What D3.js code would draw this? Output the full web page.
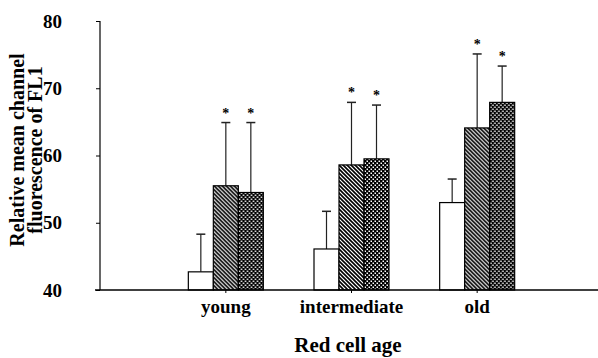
<!DOCTYPE html>
<html><head><meta charset="utf-8">
<script src="https://cdn.jsdelivr.net/npm/d3@7"></script>
<style>body{margin:0;background:#fff}svg{display:block}text{font-family:"Liberation Serif","Times New Roman",serif;font-weight:bold;fill:#000}</style>
</head><body>
<svg id="c" width="598" height="358"></svg>
<script>
const categories = ["young", "intermediate", "old"];
const series = ["control", "treatA", "treatB"];
const meanControl = [42.7, 46.1, 53.0];
const meanA = [55.5, 58.6, 64.1];
const meanB = [54.5, 59.5, 67.9];
const errTopControl = [48.3, 51.7, 56.5];
const errTopA = [64.9, 67.9, 75.1];
const errTopB = [64.9, 67.5, 73.3];
const significant = [[false, true, true], [false, true, true], [false, true, true]];
const yTicks = [40, 50, 60, 70, 80];

const svg = d3.select("#c");
const defs = svg.append("defs");
const hp = defs.append("pattern").attr("id","hatch").attr("patternUnits","userSpaceOnUse")
  .attr("width",4).attr("height",4);
hp.append("rect").attr("width",4).attr("height",4).attr("fill","#fff");
hp.append("path").attr("d","M-1,-1 L5,5 M-1,3 L1,5 M3,-1 L5,1").attr("stroke","#000").attr("stroke-width",1.6);
const cp = defs.append("pattern").attr("id","cross").attr("patternUnits","userSpaceOnUse")
  .attr("width",4).attr("height",4);
cp.append("rect").attr("width",4).attr("height",4).attr("fill","#000");
cp.append("rect").attr("x",0.5).attr("y",0.5).attr("width",1.5).attr("height",1.5).attr("fill","#fff");
cp.append("rect").attr("x",2.5).attr("y",2.5).attr("width",1.5).attr("height",1.5).attr("fill","#fff");
const fills = ["#fff","url(#hatch)","url(#cross)"];

const y = d3.scaleLinear().domain([40,80]).range([290,21]);
const x0 = d3.scaleBand().domain(categories).range([163,540]);
const x1 = d3.scaleBand().domain(series).range([0,75]);

const data = categories.map((c,i)=>({cat:c, vals:[
  {s:series[0], v:meanControl[i], e:errTopControl[i], sig:significant[i][0], k:0},
  {s:series[1], v:meanA[i], e:errTopA[i], sig:significant[i][1], k:1},
  {s:series[2], v:meanB[i], e:errTopB[i], sig:significant[i][2], k:2}]}));

const g = svg.append("g");
const groups = g.selectAll("g.grp").data(data).join("g")
  .attr("transform",d=>`translate(${x0(d.cat)+x0.bandwidth()/2-37.5},0)`);
groups.selectAll("line.err").data(d=>d.vals).join("line")
  .attr("x1",d=>x1(d.s)+x1.bandwidth()/2).attr("x2",d=>x1(d.s)+x1.bandwidth()/2)
  .attr("y1",d=>y(d.v)).attr("y2",d=>y(d.e)).attr("stroke","#222").attr("stroke-width",1.2);
groups.selectAll("line.cap").data(d=>d.vals).join("line")
  .attr("x1",d=>x1(d.s)+x1.bandwidth()/2-4.5).attr("x2",d=>x1(d.s)+x1.bandwidth()/2+4.5)
  .attr("y1",d=>y(d.e)).attr("y2",d=>y(d.e)).attr("stroke","#222").attr("stroke-width",1.5);
groups.selectAll("rect").data(d=>d.vals).join("rect")
  .attr("x",d=>x1(d.s)).attr("width",x1.bandwidth())
  .attr("y",d=>y(d.v)).attr("height",d=>y(40)-y(d.v))
  .attr("fill",d=>fills[d.k]).attr("stroke","#000").attr("stroke-width",1.2);
groups.selectAll("text.star").data(d=>d.vals.filter(v=>v.sig)).join("text")
  .attr("x",d=>x1(d.s)+x1.bandwidth()/2).attr("y",d=>y(d.e)-5)
  .attr("text-anchor","middle").attr("font-size",14).text("*");

const yAxis = svg.append("g").attr("transform","translate(100,0)")
  .call(d3.axisLeft(y).tickValues(yTicks).tickSize(4).tickPadding(34));
yAxis.select(".domain").attr("stroke","#000").attr("stroke-width",1.2).attr("d","M0,21V290");
yAxis.selectAll("line").attr("stroke","#000");
yAxis.selectAll("text").attr("font-size",19).attr("font-family","Liberation Serif").attr("font-weight","bold").attr("fill","#000");

const xAxis = svg.append("g").attr("transform","translate(0,290)")
  .call(d3.axisBottom(x0).tickSize(3).tickPadding(7));
xAxis.select(".domain").attr("stroke","#000").attr("stroke-width",1.5).attr("d","M95,0H598");
xAxis.selectAll("line").attr("stroke","#000");
xAxis.selectAll("text").attr("font-size",19).attr("font-family","Liberation Serif").attr("font-weight","bold").attr("fill","#000");

svg.append("text").attr("x",348).attr("y",352).attr("text-anchor","middle").attr("font-size",21).text("Red cell age");
const yl = svg.append("text").attr("transform","translate(0,150) rotate(-90)").attr("text-anchor","middle").attr("font-size",20);
yl.append("tspan").attr("x",0).attr("y",24).text("Relative mean channel");
yl.append("tspan").attr("x",0).attr("y",42).text("fluorescence of FL1");
</script>
</body></html>
